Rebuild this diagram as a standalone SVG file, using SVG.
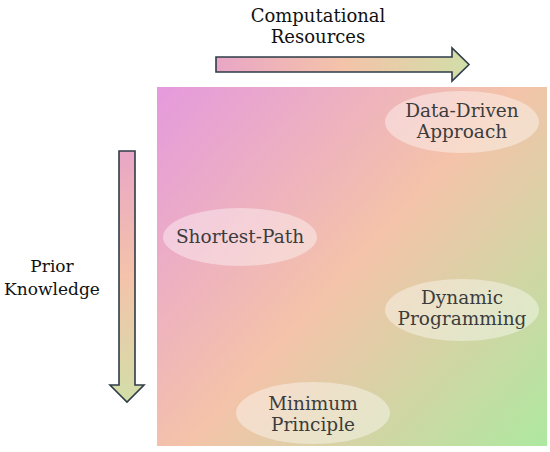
<svg xmlns="http://www.w3.org/2000/svg" width="550" height="452" viewBox="0 0 550 452">
<defs>
<linearGradient id="bg" gradientUnits="userSpaceOnUse" x1="157" y1="87" x2="546" y2="446">
<stop offset="0" stop-color="#E59ADD"/>
<stop offset="0.5" stop-color="#F4C3A9"/>
<stop offset="1" stop-color="#AEE8A0"/>
</linearGradient>
<linearGradient id="ah" x1="0" y1="0" x2="1" y2="0">
<stop offset="0" stop-color="#E9A6C6"/>
<stop offset="0.5" stop-color="#F4C3A9"/>
<stop offset="1" stop-color="#D2DEA8"/>
</linearGradient>
<linearGradient id="av" x1="0" y1="0" x2="0" y2="1">
<stop offset="0" stop-color="#E9A6C6"/>
<stop offset="0.5" stop-color="#F4C3A9"/>
<stop offset="1" stop-color="#D2DEA8"/>
</linearGradient>
<style>
.t{font-family:"DejaVu Serif","Liberation Serif",serif;font-size:18px;fill:#111;text-anchor:middle}
.y{font-size:17px}
.n{font-family:"DejaVu Serif","Liberation Serif",serif;font-size:18.5px;fill:#3C3C3C;text-anchor:middle}
.e{fill:#fff;fill-opacity:0.4}
.arr{stroke:#2E3D48;stroke-width:1.6;stroke-linejoin:miter}
</style>
</defs>
<rect x="157" y="87" width="390" height="359" fill="url(#bg)"/>
<g id="axes">
<path class="arr" fill="url(#ah)" d="M216,57 H452 V48 L469,64.5 L452,81 V72 H216 Z"/>
<path class="arr" fill="url(#av)" d="M119,151 H135 V385 H144 L127,402 L110,385 H119 Z"/>
</g>
<g id="label-x"><text class="t" x="318" y="22">Computational</text><text class="t" x="318" y="43">Resources</text></g>
<g id="label-y"><text class="t y" x="52" y="272">Prior</text><text class="t y" x="52" y="295">Knowledge</text></g>
<g id="data-driven"><ellipse class="e" cx="462" cy="122" rx="77" ry="31"/><text class="n" x="462" y="117">Data-Driven</text><text class="n" x="462" y="138">Approach</text></g>
<g id="shortest-path"><ellipse class="e" cx="240" cy="237" rx="77" ry="29"/><text class="n" x="240" y="243">Shortest-Path</text></g>
<g id="dynamic"><ellipse class="e" cx="462" cy="310" rx="77" ry="31"/><text class="n" x="462" y="304">Dynamic</text><text class="n" x="462" y="325">Programming</text></g>
<g id="minimum"><ellipse class="e" cx="313" cy="413" rx="77" ry="31"/><text class="n" x="313" y="410">Minimum</text><text class="n" x="313" y="431">Principle</text></g>
</svg>
